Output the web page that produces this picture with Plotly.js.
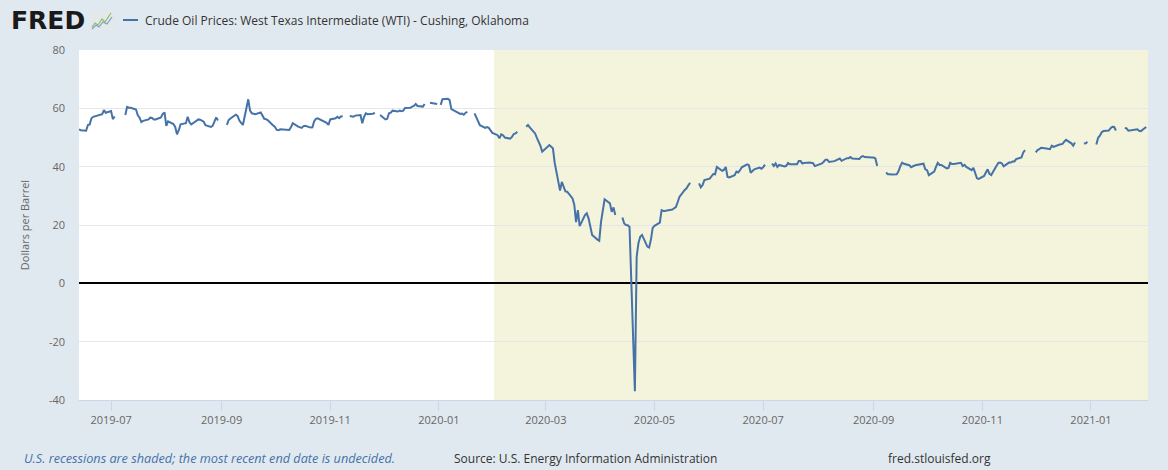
<!DOCTYPE html>
<html>
<head>
<meta charset="utf-8">
<script src="https://cdn.plot.ly/plotly-3.0.1.min.js"></script>
<style>
  html, body { margin: 0; padding: 0; background: #e1e9f0; }
  #chart { width: 1168px; height: 470px; }
</style>
</head>
<body>
<div id="chart"></div>
<script>
// daily WTI spot price, dollars per barrel (null = no quote, line breaks)
const dates2019 = [
  '2019-06-13','2019-06-14','2019-06-17','2019-06-18','2019-06-19','2019-06-20','2019-06-21','2019-06-24','2019-06-25','2019-06-26','2019-06-27','2019-06-28',
  '2019-07-01','2019-07-02','2019-07-03','2019-07-04','2019-07-09','2019-07-10','2019-07-11','2019-07-12','2019-07-15','2019-07-16','2019-07-17','2019-07-18','2019-07-19',
  '2019-07-22','2019-07-23','2019-07-24','2019-07-25','2019-07-26','2019-07-29','2019-07-30','2019-07-31',
  '2019-08-01','2019-08-02','2019-08-05','2019-08-06','2019-08-07','2019-08-08','2019-08-09','2019-08-12','2019-08-13','2019-08-14','2019-08-15','2019-08-16',
  '2019-08-19','2019-08-20','2019-08-21','2019-08-22','2019-08-23','2019-08-26','2019-08-27','2019-08-28','2019-08-29','2019-08-30',
  '2019-09-02','2019-09-04','2019-09-05','2019-09-06','2019-09-09','2019-09-10','2019-09-11','2019-09-12','2019-09-13','2019-09-16','2019-09-17','2019-09-18','2019-09-19','2019-09-20',
  '2019-09-23','2019-09-24','2019-09-25','2019-09-26','2019-09-27','2019-09-30',
  '2019-10-01','2019-10-02','2019-10-03','2019-10-04','2019-10-07','2019-10-08','2019-10-09','2019-10-10','2019-10-11','2019-10-14','2019-10-15','2019-10-16','2019-10-17','2019-10-18',
  '2019-10-21','2019-10-22','2019-10-23','2019-10-24','2019-10-25','2019-10-28','2019-10-29','2019-10-30','2019-10-31',
  '2019-11-01','2019-11-04','2019-11-05','2019-11-06','2019-11-07','2019-11-08','2019-11-11','2019-11-12','2019-11-13','2019-11-14','2019-11-15',
  '2019-11-18','2019-11-19','2019-11-20','2019-11-21','2019-11-22','2019-11-25','2019-11-26','2019-11-28','2019-11-29',
  '2019-12-02','2019-12-03','2019-12-04','2019-12-05','2019-12-06','2019-12-09','2019-12-10','2019-12-11','2019-12-12','2019-12-13',
  '2019-12-16','2019-12-17','2019-12-18','2019-12-19','2019-12-20','2019-12-23','2019-12-24','2019-12-25','2019-12-27','2019-12-30','2019-12-31'
];
const price2019 = [
  52.8,52.5,52.3,54.3,54.5,56.6,57.1,57.6,57.8,58.0,59.4,58.5,
  59.1,56.3,57.2,null,57.7,60.5,60.2,60.2,59.6,57.6,56.8,55.3,55.7,
  56.2,56.8,56.7,56.2,56.2,56.9,58.1,58.6,
  54.0,55.5,54.6,53.6,51.1,52.5,54.5,54.9,57.1,55.2,54.5,54.9,
  56.2,56.1,55.8,55.4,54.2,53.6,54.0,55.8,56.9,55.8,
  null,54.3,56.0,56.5,57.8,57.4,55.8,55.0,54.3,63.1,59.2,58.3,58.1,58.0,
  58.6,57.3,56.4,56.3,55.9,54.1,
  53.6,52.6,52.5,52.8,52.8,52.6,52.6,53.6,54.9,53.7,53.6,53.3,53.9,54.0,
  53.4,53.5,55.6,56.4,56.6,55.6,55.4,55.0,54.3,
  56.2,56.6,57.1,56.6,57.2,57.3,null,57.4,57.2,57.1,57.5,
  57.7,54.9,57.1,58.3,58.0,58.1,58.5,null,57.7,
  56.2,56.4,58.3,58.5,59.2,58.9,59.2,59.0,59.2,60.1,
  60.2,60.6,60.8,61.5,60.8,60.6,61.5,null,61.9,61.7,61.5
];

const dates2020 = [
  '2020-01-01','2020-01-02','2020-01-03','2020-01-06','2020-01-07','2020-01-08','2020-01-09','2020-01-10','2020-01-13','2020-01-14','2020-01-15','2020-01-16','2020-01-17',
  '2020-01-20','2020-01-21','2020-01-22','2020-01-23','2020-01-24','2020-01-27','2020-01-28','2020-01-29','2020-01-30','2020-01-31',
  '2020-02-03','2020-02-04','2020-02-05','2020-02-06','2020-02-07','2020-02-10','2020-02-11','2020-02-12','2020-02-13','2020-02-14',
  '2020-02-17','2020-02-19','2020-02-20','2020-02-21','2020-02-24','2020-02-25','2020-02-26','2020-02-27','2020-02-28',
  '2020-03-02','2020-03-03','2020-03-04','2020-03-05','2020-03-06','2020-03-09','2020-03-10','2020-03-11','2020-03-12','2020-03-13',
  '2020-03-16','2020-03-17','2020-03-18','2020-03-19','2020-03-20','2020-03-23','2020-03-24','2020-03-25','2020-03-26','2020-03-27','2020-03-30','2020-03-31',
  '2020-04-01','2020-04-02','2020-04-03','2020-04-06','2020-04-07','2020-04-08','2020-04-09','2020-04-10','2020-04-13','2020-04-14','2020-04-15','2020-04-16','2020-04-17',
  '2020-04-20','2020-04-21','2020-04-22','2020-04-23','2020-04-24','2020-04-27','2020-04-28','2020-04-29','2020-04-30',
  '2020-05-01','2020-05-04','2020-05-05','2020-05-06','2020-05-07','2020-05-08','2020-05-11','2020-05-12','2020-05-13','2020-05-14','2020-05-15',
  '2020-05-18','2020-05-19','2020-05-20','2020-05-21','2020-05-25','2020-05-26','2020-05-27','2020-05-28','2020-05-29',
  '2020-06-01','2020-06-02','2020-06-03','2020-06-04','2020-06-05','2020-06-08','2020-06-09','2020-06-10','2020-06-11','2020-06-12',
  '2020-06-15','2020-06-16','2020-06-17','2020-06-18','2020-06-19','2020-06-22','2020-06-23','2020-06-24','2020-06-25','2020-06-26','2020-06-29','2020-06-30',
  '2020-07-01','2020-07-02','2020-07-03','2020-07-06','2020-07-07','2020-07-08','2020-07-09','2020-07-10','2020-07-13','2020-07-14','2020-07-15','2020-07-16','2020-07-17',
  '2020-07-20','2020-07-21','2020-07-22','2020-07-23','2020-07-24','2020-07-27','2020-07-28','2020-07-29','2020-07-30','2020-07-31',
  '2020-08-03','2020-08-04','2020-08-05','2020-08-06','2020-08-07','2020-08-10','2020-08-11','2020-08-12','2020-08-13','2020-08-14',
  '2020-08-17','2020-08-18','2020-08-19','2020-08-20','2020-08-21','2020-08-24','2020-08-25','2020-08-26','2020-08-27','2020-08-28','2020-08-31',
  '2020-09-01','2020-09-02','2020-09-03','2020-09-07','2020-09-08','2020-09-09','2020-09-10','2020-09-11','2020-09-14','2020-09-15','2020-09-16','2020-09-17','2020-09-18',
  '2020-09-21','2020-09-22','2020-09-23','2020-09-24','2020-09-25','2020-09-28','2020-09-29','2020-09-30',
  '2020-10-01','2020-10-02','2020-10-05','2020-10-06','2020-10-07','2020-10-08','2020-10-09','2020-10-12','2020-10-13','2020-10-14','2020-10-15','2020-10-16',
  '2020-10-19','2020-10-20','2020-10-21','2020-10-22','2020-10-23','2020-10-26','2020-10-27','2020-10-28','2020-10-29','2020-10-30',
  '2020-11-02','2020-11-03','2020-11-04','2020-11-05','2020-11-06','2020-11-09','2020-11-10','2020-11-11','2020-11-12','2020-11-13',
  '2020-11-16','2020-11-17','2020-11-18','2020-11-19','2020-11-20','2020-11-23','2020-11-24','2020-11-25','2020-11-26',
  '2020-12-01','2020-12-02','2020-12-03','2020-12-04','2020-12-07','2020-12-08','2020-12-09','2020-12-10','2020-12-11',
  '2020-12-14','2020-12-15','2020-12-16','2020-12-17','2020-12-18','2020-12-21','2020-12-22','2020-12-23','2020-12-25','2020-12-28','2020-12-29','2020-12-30'
];
const price2020 = [
  null,61.2,63.1,63.3,62.8,59.7,59.4,59.0,58.1,58.2,57.8,58.5,58.8,
  null,58.3,56.7,55.6,54.2,53.3,53.6,53.3,52.2,51.6,
  50.8,49.7,51.1,50.8,50.0,49.6,50.2,51.2,51.4,52.0,
  null,53.7,54.3,53.5,51.4,49.9,48.7,47.1,45.1,
  46.8,47.4,46.8,46.3,41.3,31.8,34.8,32.9,31.5,31.4,
  29.1,26.9,21.0,25.1,19.6,23.4,24.0,22.3,19.5,16.6,15.0,14.6,
  21.1,25.3,28.8,27.4,24.5,26.0,23.4,null,22.6,20.5,20.0,19.9,19.3,
  -37.0,9.1,13.8,16.0,16.6,12.6,12.3,15.0,19.0,
  19.7,20.8,25.1,24.8,24.8,25.0,25.3,25.8,26.1,27.8,29.6,
  32.0,32.6,33.6,34.5,null,34.3,32.9,33.7,35.4,
  35.9,36.8,37.5,37.4,39.9,38.6,38.9,39.9,36.5,36.3,
  37.1,38.3,38.0,38.8,39.8,40.8,40.5,37.9,38.6,39.1,39.7,39.3,
  39.8,40.7,null,41.1,40.2,41.1,39.9,40.6,40.1,40.3,41.3,40.8,40.8,
  40.8,41.9,41.9,41.1,41.3,41.4,41.4,41.2,40.2,40.4,
  41.1,41.7,42.4,42.4,41.6,41.9,42.2,42.6,42.8,42.0,
  42.9,42.9,43.3,42.8,42.8,42.6,43.4,43.6,43.3,43.2,43.1,
  43.1,42.8,40.2,null,38.0,37.4,37.4,37.3,37.4,38.5,40.2,41.4,41.0,
  40.5,39.8,40.2,40.4,40.6,41.0,41.0,39.1,
  38.8,37.1,38.3,39.9,41.3,40.6,40.6,39.4,39.6,41.3,40.9,40.9,
  41.1,41.3,40.2,40.6,39.9,38.8,39.6,37.4,36.0,35.8,
  36.8,38.0,39.1,37.5,37.1,40.3,41.3,41.4,41.1,40.1,
  41.4,41.4,41.8,41.8,42.6,43.2,44.9,45.7,null,
  44.9,45.7,46.0,46.5,46.2,46.0,46.0,47.2,46.8,
  47.5,47.6,47.8,48.6,49.2,48.0,47.2,48.3,null,47.9,48.0,48.5
];

const dates2021 = [
  '2021-01-01','2021-01-04','2021-01-05','2021-01-06','2021-01-07','2021-01-08','2021-01-11','2021-01-12','2021-01-13','2021-01-14','2021-01-15',
  '2021-01-18','2021-01-20','2021-01-21','2021-01-22','2021-01-25','2021-01-26','2021-01-27','2021-01-28','2021-01-29','2021-02-01'
];
const price2021 = [
  null,47.6,49.9,50.6,51.8,52.2,52.4,53.2,53.7,53.6,52.4,
  null,53.3,53.1,52.3,52.7,52.6,52.8,52.3,52.2,53.6
];

const recessionStart = '2020-02-01';
const recessionEnd = '2021-02-02';
const xRange = ['2019-06-13', '2021-02-02'];
const yTicks = [-40, -20, 0, 20, 40, 60, 80];
const yTickLabels = ['-40', '-20', '0', '20', '40', '60', '80'];

const seriesName = 'Crude Oil Prices: West Texas Intermediate (WTI) - Cushing, Oklahoma';
const lineColor = '#4572a7';

// plot box in pixels, used to place the header and footer decorations
const L = 79, T = 50, W = 1069, H = 350;
const px = x => (x - L) / W;
const py = y => (T + H - y) / H;

const trace = {
  x: dates2019.concat(dates2020, dates2021),
  y: price2019.concat(price2020, price2021),
  type: 'scatter',
  mode: 'lines',
  connectgaps: false,
  line: { color: lineColor, width: 2 },
  name: seriesName,
  hoverinfo: 'skip'
};

const iconGreen = [[92,27],[95,23],[98,25],[102,19],[105,22],[111,13]];
const iconBlue = [[92,29],[96,25],[99,27],[103,22],[107,24],[112,17]];
const toPath = pts => pts.map((p, i) => (i ? 'L' : 'M') + px(p[0]).toFixed(5) + ',' + py(p[1]).toFixed(5)).join(' ');

const layout = {
  width: 1168,
  height: 470,
  margin: { l: L, r: 1168 - L - W, t: T, b: 470 - T - H },
  paper_bgcolor: '#e1e9f0',
  plot_bgcolor: '#ffffff',
  showlegend: false,
  font: { family: '"Open Sans", sans-serif', size: 11, color: '#666666' },
  xaxis: {
    type: 'date',
    range: xRange,
    tick0: '2019-07-01',
    dtick: 'M2',
    tickformat: '%Y-%m',
    ticks: 'outside',
    ticklen: 10,
    tickcolor: '#ccd6eb',
    showline: true,
    linecolor: '#ccd6eb',
    linewidth: 1,
    showgrid: false,
    zeroline: false,
    tickfont: { family: '"Open Sans", sans-serif', size: 11, color: '#666666' },
    fixedrange: true
  },
  yaxis: {
    range: [-40, 80],
    tickvals: yTicks,
    ticktext: yTickLabels,
    ticks: '',
    ticklabelstandoff: 13,
    showgrid: true,
    gridcolor: '#e6e6e6',
    gridwidth: 1,
    zeroline: true,
    zerolinecolor: '#000000',
    zerolinewidth: 2,
    showline: false,
    tickfont: { family: '"Open Sans", sans-serif', size: 11, color: '#666666' },
    title: { text: 'Dollars per Barrel', standoff: 17, font: { family: '"Open Sans", sans-serif', size: 11, color: '#666666' } },
    fixedrange: true
  },
  shapes: [
    { type: 'rect', xref: 'x', yref: 'paper', x0: recessionStart, x1: recessionEnd, y0: 0, y1: 1,
      fillcolor: '#f4f4dc', line: { width: 0 }, layer: 'below' },
    // header: small chart icon next to the logo and the legend dash
    { type: 'rect', xref: 'paper', yref: 'paper', x0: px(90), x1: px(114), y0: py(31), y1: py(10),
      fillcolor: '#e3e8ea', line: { width: 0 } },
    { type: 'path', xref: 'paper', yref: 'paper', path: toPath(iconGreen), line: { color: '#8fbf63', width: 1.2 } },
    { type: 'path', xref: 'paper', yref: 'paper', path: toPath(iconBlue), line: { color: '#7c9fc4', width: 1.2 } },
    { type: 'line', xref: 'paper', yref: 'paper', x0: px(123), x1: px(138), y0: py(20), y1: py(20),
      line: { color: lineColor, width: 2 } }
  ],
  annotations: [
    { xref: 'paper', yref: 'paper', x: px(9), y: py(20), xanchor: 'left', yanchor: 'middle', showarrow: false,
      text: '<b>FRED</b>', font: { family: '"DejaVu Sans", sans-serif', size: 25, color: '#1a1a1a' } },
    { xref: 'paper', yref: 'paper', x: px(143), y: py(20), xanchor: 'left', yanchor: 'middle', showarrow: false,
      text: seriesName, font: { family: '"Open Sans", sans-serif', size: 12, color: '#333333' } },
    { xref: 'paper', yref: 'paper', x: px(22), y: py(458), xanchor: 'left', yanchor: 'middle', showarrow: false,
      text: '<i>U.S. recessions are shaded; the most recent end date is undecided.</i>',
      font: { family: '"Open Sans", sans-serif', size: 12.7, color: '#4572a7' } },
    { xref: 'paper', yref: 'paper', x: px(452), y: py(458), xanchor: 'left', yanchor: 'middle', showarrow: false,
      text: 'Source: U.S. Energy Information Administration',
      font: { family: '"Open Sans", sans-serif', size: 12, color: '#333333' } },
    { xref: 'paper', yref: 'paper', x: px(886), y: py(458), xanchor: 'left', yanchor: 'middle', showarrow: false,
      text: 'fred.stlouisfed.org',
      font: { family: '"Open Sans", sans-serif', size: 12, color: '#333333' } }
  ]
};

Plotly.newPlot('chart', [trace], layout, { displayModeBar: false, staticPlot: true });
</script>
</body>
</html>
